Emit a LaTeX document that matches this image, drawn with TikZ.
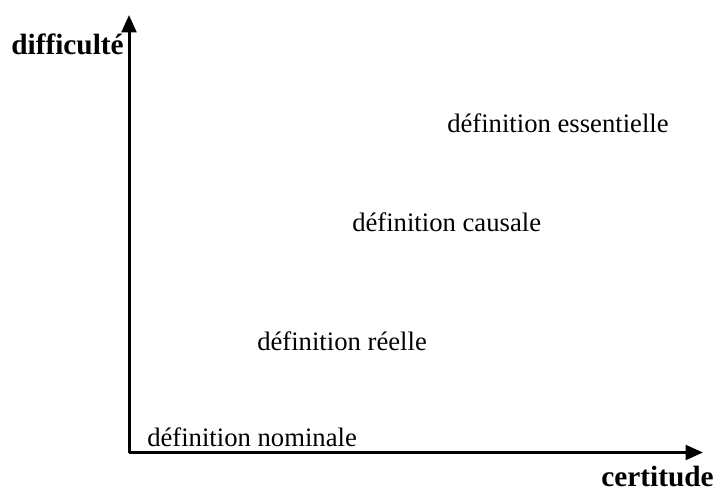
\documentclass[tikz,border=0pt]{standalone}
\usepackage{fontspec}
\setmainfont{Liberation Serif}
\usetikzlibrary{arrows.meta, positioning}

\begin{document}
\begin{tikzpicture}[
    x=0.75pt, y=-0.75pt,
    % --- STYLES ---
    axis/.style={line width=2.25pt, -{Triangle[length=13pt, width=11pt]}},
    axislabel/.style={inner sep=0pt, font=\fontsize{22}{24}\selectfont\bfseries},
    level/.style={inner sep=0pt, anchor=west, font=\fontsize{20}{23}\selectfont}
]
    \useasboundingbox (0,0) rectangle (724,492);

    % ==========================================
    % AXES
    % ==========================================
    \coordinate (origin) at (129,452.5);
    \coordinate (ytip) at (129,15);
    \coordinate (xtip) at (703,452.5);

    \draw[axis] (origin) -- (ytip);
    \draw[axis] (origin) -- (xtip);

    \node[axislabel, anchor=east] (ylabel) at (124,44) {difficulté};
    \node[axislabel, anchor=east] (xlabel) at (714,476) {certitude};

    % ==========================================
    % DEFINITIONS
    % ==========================================
    \node[level] (nominale) at (147,437) {définition nominale};
    \node[level] (reelle) at (257,341) {définition réelle};
    \node[level] (causale) at (352,222) {définition causale};
    \node[level] (essentielle) at (447,123) {définition essentielle};

\end{tikzpicture}
\end{document}
